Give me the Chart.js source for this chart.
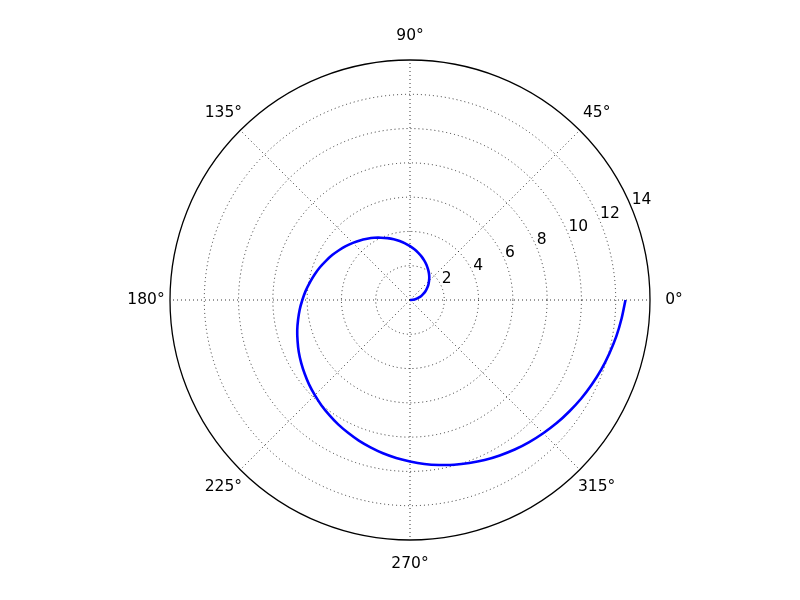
<!DOCTYPE html>
<html>
<head>
<meta charset="utf-8">
<script src="https://cdn.jsdelivr.net/npm/chart.js@4/dist/chart.umd.min.js"></script>
<style>
  body { margin: 0; background: #fff; }
  canvas { display: block; }
</style>
</head>
<body>
<canvas id="myChart" width="800" height="600"></canvas>
<script>
// DATA ----------------------------------------------------------------------
// spiral: angle (deg) and radius, every 5 degrees
var thetaDeg = [0, 5, 10, 15, 20, 25, 30, 35, 40, 45, 50, 55, 60, 65, 70, 75, 80, 85,
  90, 95, 100, 105, 110, 115, 120, 125, 130, 135, 140, 145, 150, 155, 160, 165, 170, 175,
  180, 185, 190, 195, 200, 205, 210, 215, 220, 225, 230, 235, 240, 245, 250, 255, 260, 265,
  270, 275, 280, 285, 290, 295, 300, 305, 310, 315, 320, 325, 330, 335, 340, 345, 350, 355, 360];
var radius = [0, 0.17, 0.35, 0.52, 0.70, 0.87, 1.05, 1.22, 1.40, 1.57, 1.75, 1.92, 2.09, 2.27, 2.44, 2.62, 2.79, 2.97,
  3.14, 3.32, 3.49, 3.67, 3.84, 4.01, 4.19, 4.36, 4.54, 4.71, 4.89, 5.06, 5.24, 5.41, 5.59, 5.76, 5.93, 6.11,
  6.28, 6.46, 6.63, 6.81, 6.98, 7.16, 7.33, 7.50, 7.68, 7.85, 8.03, 8.20, 8.38, 8.55, 8.73, 8.90, 9.08, 9.25,
  9.42, 9.60, 9.77, 9.95, 10.12, 10.30, 10.47, 10.65, 10.82, 10.99, 11.17, 11.34, 11.52, 11.69, 11.87, 12.04, 12.22, 12.39, 12.57];

var rTicks = [2, 4, 6, 8, 10, 12, 14];
var angleTicks = [0, 45, 90, 135, 180, 225, 270, 315];
var rMax = 14;

var FONT = '15.5px "DejaVu Sans", sans-serif';

// POLAR -> XY ---------------------------------------------------------------
function spiralPoints(){
  return thetaDeg.map(function(t, i){
    var a = t * Math.PI / 180;
    return { x: radius[i] * Math.cos(a), y: radius[i] * Math.sin(a) };
  });
}

// POLAR GRID PLUGIN ---------------------------------------------------------
var polarGrid = {
  id: 'polarGrid',
  beforeDatasetsDraw: function(chart){
    var ctx = chart.ctx;
    var xs = chart.scales.x, ys = chart.scales.y;
    var cx = xs.getPixelForValue(0), cy = ys.getPixelForValue(0);
    var px = function(r){ return xs.getPixelForValue(r) - cx; };

    ctx.save();
    ctx.strokeStyle = '#000';
    ctx.lineWidth = 0.8;
    ctx.setLineDash([1, 3]);

    // circles
    rTicks.forEach(function(r){
      if (r >= rMax) return;
      ctx.beginPath();
      ctx.arc(cx, cy, px(r), 0, 2 * Math.PI);
      ctx.stroke();
    });

    // spokes
    angleTicks.forEach(function(t){
      var a = t * Math.PI / 180;
      ctx.beginPath();
      ctx.moveTo(cx, cy);
      ctx.lineTo(xs.getPixelForValue(rMax * Math.cos(a)), ys.getPixelForValue(rMax * Math.sin(a)));
      ctx.stroke();
    });
    ctx.restore();
  },
  afterDatasetsDraw: function(chart){
    var ctx = chart.ctx;
    var xs = chart.scales.x, ys = chart.scales.y;
    var cx = xs.getPixelForValue(0), cy = ys.getPixelForValue(0);

    ctx.save();
    // outer frame
    ctx.strokeStyle = '#000';
    ctx.lineWidth = 1.3;
    ctx.beginPath();
    ctx.arc(cx, cy, xs.getPixelForValue(rMax) - cx, 0, 2 * Math.PI);
    ctx.stroke();

    ctx.fillStyle = '#000';
    ctx.font = FONT;

    // angle labels
    ctx.textAlign = 'center';
    ctx.textBaseline = 'middle';
    angleTicks.forEach(function(t){
      var a = t * Math.PI / 180;
      var r = rMax * 1.1;
      ctx.fillText(t + '\u00b0', xs.getPixelForValue(r * Math.cos(a)), ys.getPixelForValue(r * Math.sin(a)));
    });

    // radius labels along 22.5 deg
    ctx.textAlign = 'left';
    ctx.textBaseline = 'bottom';
    var a2 = 22.5 * Math.PI / 180;
    rTicks.forEach(function(r){
      ctx.fillText(String(r), xs.getPixelForValue(r * Math.cos(a2)), ys.getPixelForValue(r * Math.sin(a2)));
    });
    ctx.restore();
  }
};

// CHART ---------------------------------------------------------------------
function makeChart(){
  var ctx = document.getElementById('myChart').getContext('2d');
  new Chart(ctx, {
    type: 'scatter',
    data: {
      datasets: [{
        label: 'spiral',
        data: spiralPoints(),
        showLine: true,
        borderColor: '#0000ff',
        borderWidth: 2.6,
        tension: 0.3,
        pointRadius: 0,
        fill: false
      }]
    },
    options: {
      responsive: false,
      animation: false,
      devicePixelRatio: 1,
      layout: { padding: { left: 170, right: 150, top: 60, bottom: 60 } },
      plugins: { legend: { display: false }, tooltip: { enabled: false } },
      scales: {
        x: { type: 'linear', min: -rMax, max: rMax, display: false },
        y: { type: 'linear', min: -rMax, max: rMax, display: false }
      }
    },
    plugins: [polarGrid]
  });
}

makeChart();
</script>
</body>
</html>
